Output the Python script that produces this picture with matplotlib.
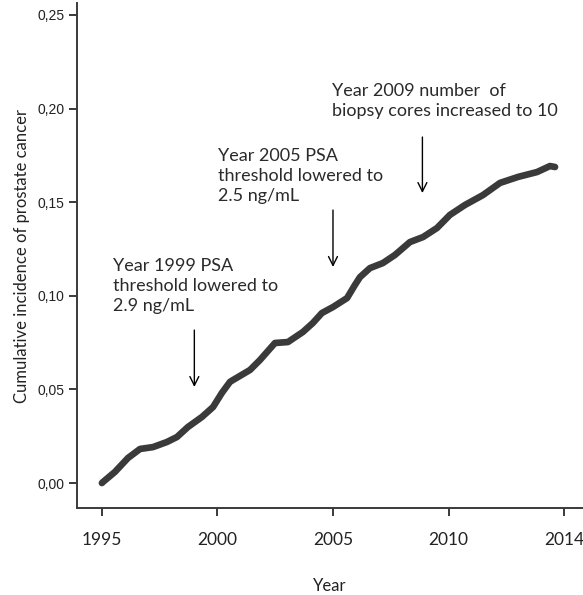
import matplotlib
matplotlib.use('Agg')
import matplotlib.pyplot as plt

# cumulative incidence
years = [1995.0, 1995.04, 1995.56, 1996.13, 1996.65, 1997.21, 1997.81, 1998.25,
         1998.72, 1999.33, 1999.81, 2000.19, 2000.54, 2000.67, 2001.41, 2001.84,
         2002.49, 2003.05, 2003.70, 2004.13, 2004.52, 2005.0, 2005.61, 2005.95,
         2006.17, 2006.60, 2007.16, 2007.68, 2008.33, 2008.90, 2009.50, 2010.06,
         2010.71, 2011.49, 2012.23, 2013.01, 2013.83, 2014.39, 2014.61]
incidence = [0.0, 0.0005, 0.0059, 0.0134, 0.0182, 0.0192, 0.0219, 0.0246,
             0.0299, 0.0353, 0.0406, 0.0481, 0.0540, 0.0550, 0.0604, 0.0657,
             0.0748, 0.0753, 0.0807, 0.0855, 0.0908, 0.0940, 0.0988, 0.1058,
             0.1100, 0.1148, 0.1175, 0.1218, 0.1287, 0.1314, 0.1362, 0.1432,
             0.1485, 0.1538, 0.1603, 0.1635, 0.1661, 0.1693, 0.1688]

xticks = [1995, 2000, 2005, 2010, 2015]
xticklabels = ['1995', '2000', '2005', '2010', '2014']
yticks = [0.0, 0.05, 0.10, 0.15, 0.20, 0.25]
yticklabels = ['0,00', '0,05', '0,10', '0,15', '0,20', '0,25']

# events: arrow x, arrow top, arrow tip, text x, text top, text
events = [
    (1999.0, 0.0817, 0.0513, 1995.48, 0.1202, 'Year 1999 PSA\nthreshold lowered to\n2.9 ng/mL'),
    (2005.0, 0.1458, 0.1154, 2000.02, 0.1790, 'Year 2005 PSA\nthreshold lowered to\n2.5 ng/mL'),
    (2008.87, 0.1848, 0.1549, 2004.96, 0.2137, 'Year 2009 number  of\nbiopsy cores increased to 10'),
]

dark = '#3a3a3a'
fig = plt.figure(figsize=(5.83, 5.95), dpi=100)
ax = fig.add_axes([0.132, 0.146, 0.868, 0.849])

ax.plot(years, incidence, color=dark, linewidth=4.8, solid_capstyle='round',
        solid_joinstyle='round')

for ax_x, y0, y1, tx, ty, txt in events:
    ax.annotate('', xy=(ax_x, y1), xytext=(ax_x, y0),
                arrowprops=dict(arrowstyle='->', color='black', lw=1.0,
                                mutation_scale=16, shrinkA=0, shrinkB=0))
    ax.text(tx, ty, txt, ha='left', va='top', fontsize=13, family='Lato',
            linespacing=1.3, color='#2a2a2a')

ax.set_xlim(1993.92, 2015.82)
ax.set_ylim(-0.0134, 0.2564)
ax.set_xticks(xticks)
ax.set_xticklabels(xticklabels, family='Lato', fontsize=12.5, color='#222222')
ax.set_yticks(yticks)
ax.set_yticklabels(yticklabels, family='Liberation Sans', fontsize=10,
                   color='#222222')

for side in ['top', 'right']:
    ax.spines[side].set_visible(False)
for side in ['left', 'bottom']:
    ax.spines[side].set_color(dark)
    ax.spines[side].set_linewidth(1.4)

ax.tick_params(axis='x', length=6, width=1.4, color=dark, pad=11)
ax.tick_params(axis='y', length=6, width=1.4, color=dark, pad=3)

ax.set_xlabel('Year', family='Lato', fontsize=12, labelpad=22, color='#222222')
ax.set_ylabel('Cumulative incidence of prostate cancer', family='Lato',
              fontsize=12, labelpad=5, color='#222222')

fig.savefig('out.png', dpi=100)
